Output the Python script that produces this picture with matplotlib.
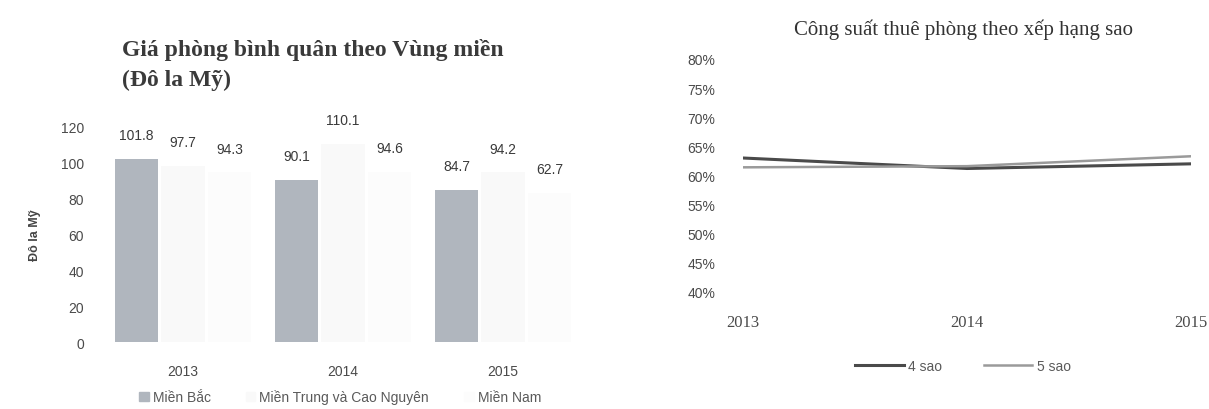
import numpy as np
import matplotlib
matplotlib.use('Agg')
import matplotlib.pyplot as plt
from matplotlib.patches import Patch

# Giá phòng bình quân theo vùng miền (Đô la Mỹ)
years = ['2013', '2014', '2015']
regions = ['Miền Bắc', 'Miền Trung và Cao Nguyên', 'Miền Nam']
mien_bac = [101.8, 90.1, 84.7]
mien_trung = [97.7, 110.1, 94.2]
mien_nam = [94.3, 94.6, 82.7]
bar_labels = [['101.8', '90.1', '84.7'],
              ['97.7', '110.1', '94.2'],
              ['94.3', '94.6', '62.7']]

# Công suất thuê phòng theo xếp hạng sao (%)
line_years = [2013, 2014, 2015]
sao_4 = [63.0, 61.2, 62.0]
sao_5 = [61.4, 61.6, 63.3]

narrow = ['Liberation Sans Narrow', 'Liberation Sans', 'DejaVu Sans']
serif = ['Liberation Serif', 'DejaVu Serif']

fig = plt.figure(figsize=(12.09, 4.10), dpi=100)
fig.patch.set_facecolor('white')

# ---- bieu do cot ----
ax1 = fig.add_axes([0.0786, 0.1634, 0.4094, 0.5268])
x = np.arange(len(years))
w = 0.27
off = 0.29
colors = ['#b0b6be', '#f9f9f9', '#fcfcfc']
series = [mien_bac, mien_trung, mien_nam]
for i, vals in enumerate(series):
    bars = ax1.bar(x + (i - 1) * off, vals, w, color=colors[i], label=regions[i])
    ax1.bar_label(bars, labels=bar_labels[i], padding=12, fontsize=10,
                  family=narrow, color='#3a3a3a')

ax1.set_xlim(-0.55, 2.544)
ax1.set_ylim(0, 120)
ax1.set_yticks(range(0, 121, 20))
ax1.set_xticks(x)
ax1.set_xticklabels(years)
ax1.tick_params(length=0, labelsize=10, colors='#4a4a4a')
ax1.tick_params(axis='x', pad=16)
ax1.tick_params(axis='y', pad=8)
for lab in ax1.get_xticklabels() + ax1.get_yticklabels():
    lab.set_family(narrow)
for s in ax1.spines.values():
    s.set_visible(False)
ax1.set_ylabel('Đô la Mỹ', fontsize=9, family=narrow, fontweight='bold',
               color='#444444', labelpad=14)

fig.text(122 / 1209, 1 - 50 / 410, 'Giá phòng bình quân theo Vùng miền',
         family=serif, fontsize=17, fontweight='bold', color='#3a3a3a',
         va='center', ha='left')
fig.text(122 / 1209, 1 - 80 / 410, '(Đô la Mỹ)',
         family=serif, fontsize=17, fontweight='bold', color='#3a3a3a',
         va='center', ha='left')

handles = [Patch(color=c) for c in colors]
leg1 = fig.legend(handles, regions, loc='center', ncol=3,
                  bbox_to_anchor=(340 / 1209, 1 - 398 / 410), frameon=False,
                  prop={'family': narrow, 'size': 10}, handlelength=0.7,
                  columnspacing=2.5, handletextpad=0.3)
for t in leg1.get_texts():
    t.set_color('#5a5a5a')

# ---- bieu do duong ----
ax2 = fig.add_axes([0.6146, 0.2854, 0.3706, 0.5683])
ax2.plot(line_years, sao_4, color='#4a4a4a', lw=2.2, label='4 sao')
ax2.plot(line_years, sao_5, color='#9a9a9a', lw=1.8, label='5 sao')
ax2.set_xlim(2013, 2015)
ax2.set_ylim(40, 80)
ax2.set_yticks(range(40, 81, 5))
ax2.set_yticklabels([f'{v}%' for v in range(40, 81, 5)])
ax2.set_xticks(line_years)
ax2.tick_params(length=0, labelsize=10, colors='#4a4a4a')
ax2.tick_params(axis='y', pad=20)
ax2.tick_params(axis='x', pad=16)
for lab in ax2.get_yticklabels():
    lab.set_family(narrow)
for lab in ax2.get_xticklabels():
    lab.set_family(serif)
    lab.set_fontsize(12)
for s in ax2.spines.values():
    s.set_visible(False)

fig.text(963 / 1209, 1 - 30 / 410, 'Công suất thuê phòng theo xếp hạng sao',
         family=serif, fontsize=15, color='#333333', va='center', ha='center')

leg2 = ax2.legend(loc='center', bbox_to_anchor=(963 / 1209, 1 - 367 / 410),
                  bbox_transform=fig.transFigure, ncol=2, frameon=False,
                  prop={'family': narrow, 'size': 10}, handlelength=3.5,
                  columnspacing=3, handletextpad=0.3)
for t in leg2.get_texts():
    t.set_color('#5a5a5a')

fig.savefig('out.png', dpi=100, facecolor='white')
